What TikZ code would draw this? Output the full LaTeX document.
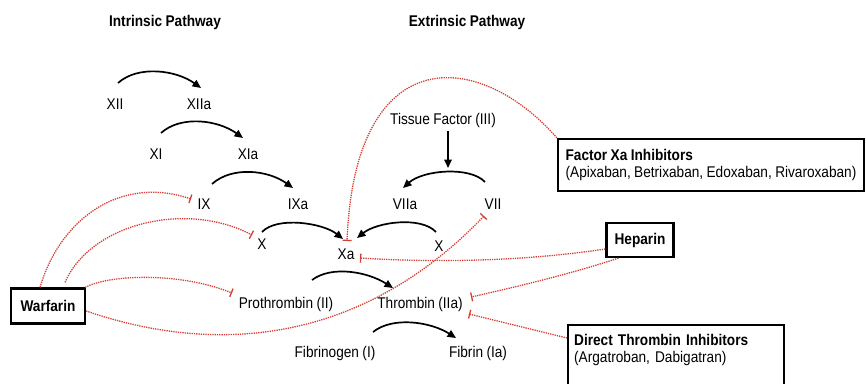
\documentclass[tikz,border=0pt]{standalone}
\usepackage{fontspec}
\setmainfont{Liberation Sans}[FakeStretch=0.88,WordSpace=0.9]
\usetikzlibrary{arrows.meta}
\definecolor{inhib}{RGB}{214,62,52}
\tikzset{
  lbl/.style={font=\fontsize{15.5}{17}\selectfont, inner sep=0pt},
  ttl/.style={font=\fontsize{15.5}{17}\selectfont\bfseries, inner sep=0pt},
  conv/.style={line width=1.7pt, -{Triangle[length=8.5pt,width=7.5pt]}},
  inh/.style={draw=inhib, line width=1.3pt, densely dotted, -{Bar[width=9pt,line width=1.3pt]}},
  drugbox/.style={draw, line width=2.3pt, fill=white, font=\fontsize{15.5}{17}\selectfont},
}
\begin{document}
\begin{tikzpicture}[x=1pt,y=-1pt]
\useasboundingbox (0,0) rectangle (866,383);
\clip (0,0) rectangle (866,383);
% titles
\node[ttl] (intr) at (165,22) {Intrinsic Pathway};
\node[ttl] (extr) at (467,22) {Extrinsic Pathway};
% factors
\node[lbl] (XII) at (115,104) {XII};
\node[lbl] (XIIa) at (199,104) {XIIa};
\node[lbl] (XI) at (156,154) {XI};
\node[lbl] (XIa) at (248,154) {XIa};
\node[lbl] (IX) at (204,204) {IX};
\node[lbl] (IXa) at (298,204) {IXa};
\node[lbl] (TF) at (443,120) {Tissue Factor (III)};
\node[lbl] (VIIa) at (405,204) {VIIa};
\node[lbl] (VII) at (493,204) {VII};
\node[lbl] (XL) at (262,244) {X};
\node[lbl] (Xa) at (346,254) {Xa};
\node[lbl] (XR) at (439,246) {X};
\node[lbl] (PT) at (286,304) {Prothrombin (II)};
\node[lbl] (TH) at (420,304) {Thrombin (IIa)};
\node[lbl] (FG) at (335,353) {Fibrinogen (I)};
\node[lbl] (FB) at (478,353) {Fibrin (Ia)};
\coordinate (tfend) at (448,168);

% drug boxes
\node[drugbox, minimum width=74pt, minimum height=35pt, inner sep=0pt, font=\fontsize{15.5}{17}\selectfont\bfseries] (W) at (48,306) {Warfarin};
\node[drugbox, minimum width=67pt, minimum height=34pt, inner sep=0pt, font=\fontsize{15.5}{17}\selectfont\bfseries] (H) at (640,240) {Heparin};
\node[drugbox, minimum width=306pt, minimum height=52pt, inner xsep=4pt, inner ysep=0pt, align=left] (FXa) at (711,165)
  {\textbf{Factor Xa Inhibitors}\\(Apixaban, Betrixaban, Edoxaban, Rivaroxaban)};
\node[drugbox, anchor=north west, text width=204pt, inner xsep=6pt, inner ysep=9pt, align=left] (DTI) at (567,324)
  {\textbf{Direct Thrombin Inhibitors}\\(Argatroban, Dabigatran)\\\mbox{}};

% conversion arcs
\draw[conv] ([xshift=3pt,yshift=21pt]XII.center) .. controls +(20,-18) and +(-25,-18) .. ([xshift=2pt,yshift=16pt]XIIa.center);
\draw[conv] ([xshift=5pt,yshift=21pt]XI.center) .. controls +(20,-18) and +(-25,-18) .. ([xshift=-5pt,yshift=16pt]XIa.center);
\draw[conv] ([xshift=8pt,yshift=20pt]IX.center) .. controls +(20,-18) and +(-25,-18) .. ([xshift=-5pt,yshift=16pt]IXa.center);
\draw[conv] ([xshift=5pt,yshift=-4pt]TF.south) -- (tfend);
\draw[conv] ([xshift=-8pt,yshift=22pt]VII.center) .. controls +(-15,-16) and +(20,-18) .. ([xshift=-2pt,yshift=16pt]VIIa.center);
\draw[conv] ([yshift=12pt]XL.center) .. controls +(15,-16) and +(-20,-16) .. ([xshift=-3pt,yshift=15pt]Xa.center);
\draw[conv] ([xshift=-3pt,yshift=14pt]XR.center) .. controls +(-15,-16) and +(20,-16) .. ([xshift=11pt,yshift=16pt]Xa.center);
\draw[conv] ([xshift=26pt,yshift=24pt]PT.center) .. controls +(20,-15) and +(-25,-16) .. ([xshift=-27pt,yshift=16pt]TH.center);
\draw[conv] ([xshift=38pt,yshift=21pt]FG.center) .. controls +(20,-16) and +(-25,-16) .. ([xshift=-22pt,yshift=15pt]FB.center);

% inhibition lines
\draw[inh] ([xshift=-8pt]W.north) .. controls +(20,-68) and +(-71,-24) .. ([xshift=-13pt,yshift=5pt]IX.center);
\draw[inh] ([xshift=17pt,yshift=5pt]W.north) .. controls +(25,-58) and +(-67,-35) .. ([xshift=-10pt,yshift=9pt]XL.center);
\draw[inh] ([xshift=-1pt]W.north east) .. controls +(25,-13) and +(-52,-21) .. ([xshift=-54pt,yshift=11pt]PT.center);
\draw[inh] ([yshift=-5pt]W.east) .. controls +(143,49) and +(-114,119) .. ([xshift=-9pt,yshift=-12pt]VII.center);
\draw[inh] (FXa.north west) .. controls +(-78,-89) and +(8,-201) .. ([xshift=1pt,yshift=13pt]Xa.center);
\draw[inh] ([yshift=-9pt]H.west) .. controls +(-80,12) and +(80,5) .. ([xshift=14pt,yshift=-4pt]Xa.center);
\draw[inh] ([xshift=13pt]H.south west) .. controls +(-45,15) and +(45,-10) .. ([xshift=51pt,yshift=7pt]TH.center);
\draw[inh] ([yshift=-14pt]DTI.north west) -- ([xshift=49pt,yshift=-10pt]TH.center);
\end{tikzpicture}
\end{document}
